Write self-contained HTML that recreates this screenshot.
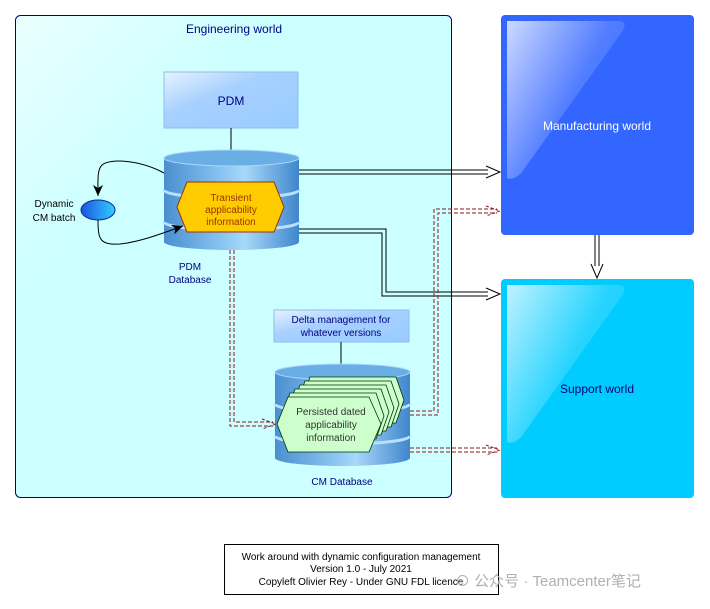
<!DOCTYPE html>
<html><head><meta charset="utf-8"><style>
body{margin:0;background:#fff}
svg{display:block;font-family:"Liberation Sans",Arial,sans-serif}
</style></head><body>
<svg width="710" height="609" viewBox="0 0 710 609" xmlns="http://www.w3.org/2000/svg">
<defs>
<linearGradient id="eng" x1="0" y1="0" x2="1" y2="1"><stop offset="0" stop-color="#eaffff"/><stop offset="0.3" stop-color="#ccffff"/><stop offset="1" stop-color="#ccffff"/></linearGradient>
<linearGradient id="cyl" x1="0" y1="0" x2="1" y2="0"><stop offset="0" stop-color="#4a8fd0"/><stop offset="0.45" stop-color="#8cc6f2"/><stop offset="0.6" stop-color="#a8d8fa"/><stop offset="1" stop-color="#3f86cc"/></linearGradient>
<linearGradient id="pdm" x1="0" y1="0" x2="1" y2="1"><stop offset="0" stop-color="#e6f2ff"/><stop offset="0.4" stop-color="#a6d0ff"/><stop offset="1" stop-color="#99ccff"/></linearGradient>
<linearGradient id="ell" x1="0" y1="0" x2="1" y2="0"><stop offset="0" stop-color="#1a55e0"/><stop offset="1" stop-color="#33ccff"/></linearGradient>
<linearGradient id="gl" x1="0" y1="0" x2="1" y2="0.7"><stop offset="0" stop-color="#fff" stop-opacity="0.75"/><stop offset="0.6" stop-color="#fff" stop-opacity="0.15"/><stop offset="1" stop-color="#fff" stop-opacity="0.05"/></linearGradient>
<marker id="ab" markerWidth="12" markerHeight="10" refX="11" refY="5" orient="auto" markerUnits="userSpaceOnUse"><path d="M0,0 L11,5 L0,10 L3,5 Z" fill="#000"/></marker>
</defs>

<rect x="15.5" y="15.5" width="436" height="482" rx="5" fill="url(#eng)" stroke="#000080" stroke-width="1"/>
<text x="234" y="33" font-size="12" fill="#000080" text-anchor="middle">Engineering world</text>

<rect x="501" y="15" width="193" height="220" rx="4" fill="#3366ff"/>
<path d="M507,21 H620 Q628,22 622,32 L522,172 Q514,181 507,178 Z" fill="url(#gl)"/>
<text x="597" y="130" font-size="12" fill="#fff" text-anchor="middle">Manufacturing world</text>
<rect x="501" y="279" width="193" height="219" rx="4" fill="#00ccff"/>
<path d="M507,285 H620 Q628,286 622,296 L522,436 Q514,445 507,442 Z" fill="url(#gl)"/>
<text x="597" y="393" font-size="12" fill="#000080" text-anchor="middle">Support world</text>

<rect x="164" y="72" width="134" height="56" fill="url(#pdm)" stroke="#8fbcec"/>
<text x="231" y="105" font-size="12" fill="#000080" text-anchor="middle">PDM</text>
<line x1="231" y1="128" x2="231" y2="150" stroke="#000"/>

<g>
<rect x="164" y="158" width="135" height="84" fill="url(#cyl)"/>
<ellipse cx="231.5" cy="242" rx="67.5" ry="8" fill="url(#cyl)"/>
<path d="M164,190 A67.5,8 0 0 0 299,190" fill="none" stroke="#b8e0ff" stroke-width="3"/>
<path d="M164,222 A67.5,8 0 0 0 299,222" fill="none" stroke="#b8e0ff" stroke-width="3"/>
<ellipse cx="231.5" cy="158" rx="67.5" ry="8" fill="#6aaee6" stroke="#a8d8fa"/>
</g>
<polygon points="177,207 187,182 274,182 284,207 274,232 187,232" fill="#ffcc00" stroke="#993300"/>
<text font-size="10" fill="#993300" text-anchor="middle"><tspan x="231" y="201">Transient</tspan><tspan x="231" y="213">applicability</tspan><tspan x="231" y="225">information</tspan></text>
<text font-size="10" fill="#000080" text-anchor="middle"><tspan x="190" y="270">PDM</tspan><tspan x="190" y="283">Database</tspan></text>

<ellipse cx="98" cy="210" rx="17" ry="10" fill="url(#ell)" stroke="#0a2a9a"/>
<text font-size="10" fill="#000" text-anchor="middle"><tspan x="54" y="207">Dynamic</tspan><tspan x="54" y="221">CM batch</tspan></text>
<path d="M164,173 C140,160 110,158 102,165 C97,170 98,180 98,196" fill="none" stroke="#000" marker-end="url(#ab)"/>
<path d="M98,220 C98,240 100,245 120,244 C140,242 160,234 183,226" fill="none" stroke="#000" marker-end="url(#ab)"/>

<rect x="274" y="310" width="135" height="32" fill="url(#pdm)" stroke="#8fbcec"/>
<text font-size="10" fill="#000080" text-anchor="middle"><tspan x="341" y="323">Delta management for</tspan><tspan x="341" y="336">whatever versions</tspan></text>
<line x1="341" y1="342" x2="341" y2="364" stroke="#000"/>

<g>
<rect x="275" y="372" width="135" height="86" fill="url(#cyl)"/>
<ellipse cx="342.5" cy="458" rx="67.5" ry="8" fill="url(#cyl)"/>
<path d="M275,404 A67.5,8 0 0 0 410,404" fill="none" stroke="#b8e0ff" stroke-width="3"/>
<path d="M275,436 A67.5,8 0 0 0 410,436" fill="none" stroke="#b8e0ff" stroke-width="3"/>
<ellipse cx="342.5" cy="372" rx="67.5" ry="8" fill="#6aaee6" stroke="#a8d8fa"/>
</g>
<g fill="#ccffcc" stroke="#003300" stroke-width="0.8">
<polygon points="302,400 310,377 396,377 404,400 396,423 310,423"/>
<polygon points="297,404 305,381 391,381 399,404 391,427 305,427"/>
<polygon points="292,408 300,385 386,385 394,408 386,431 300,431"/>
<polygon points="287,412 295,389 381,389 389,412 381,435 295,435"/>
<polygon points="282,416 290,393 376,393 384,416 376,439 290,439"/>
<polygon points="277,424 288,397 369,397 381,424 369,452 288,452"/>
</g>
<text font-size="10" fill="#333" text-anchor="middle"><tspan x="331" y="415">Persisted dated</tspan><tspan x="331" y="428">applicability</tspan><tspan x="331" y="441">information</tspan></text>
<text x="342" y="485" font-size="10" fill="#000080" text-anchor="middle">CM Database</text>

<g fill="none" stroke="#000" stroke-width="1">
<path d="M299,170 H488 M299,174 H488"/>
<path d="M486,166 L500,172 L486,178"/>
<path d="M299,229 H386 V292 H488 M299,233 H382 V296 H488"/>
<path d="M486,288 L500,294 L486,300"/>
<path d="M595,235 V266 M599,235 V266"/>
<path d="M591,264 L597,278 L603,264"/>
</g>

<g fill="none" stroke="#8b1a1a" stroke-width="1" stroke-dasharray="4,2">
<path d="M230,250 V426 H273 M234,250 V422 H273"/>
<path d="M410,411 H434 V209 H497 M410,415 H438 V213 H497"/>
<path d="M410,448 H497 M410,452 H497"/>
</g>
<g fill="none" stroke="#8b1a1a" stroke-dasharray="3,2">
<path d="M262,419 L276,424 L262,429"/>
<path d="M486,206 L500,211 L486,216"/>
<path d="M486,445 L500,450 L486,455"/>
</g>

<rect x="224.5" y="544.5" width="274" height="50" fill="#fff" stroke="#000"/>
<text font-size="10" fill="#000" text-anchor="middle"><tspan x="361" y="560">Work around with dynamic configuration management</tspan><tspan x="361" y="572">Version 1.0 - July 2021</tspan><tspan x="361" y="585">Copyleft Olivier Rey - Under GNU FDL licence</tspan></text>
<text x="455" y="586" font-size="15" fill="#b0b0b0" font-family="Liberation Sans,'Noto Sans CJK SC',sans-serif">⊙ 公众号 · Teamcenter笔记</text>
</svg>
</body></html>
